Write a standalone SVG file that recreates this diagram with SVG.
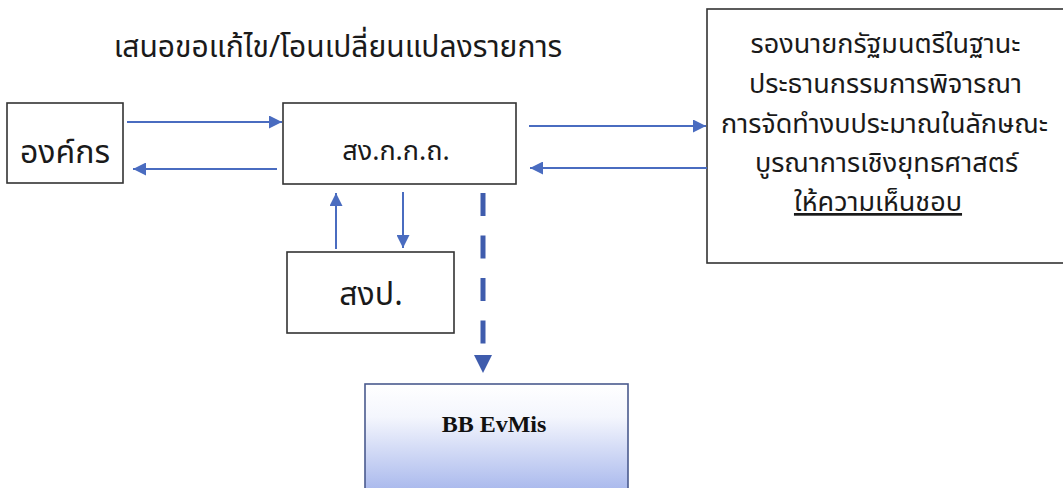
<svg xmlns="http://www.w3.org/2000/svg" width="1063" height="488" viewBox="0 0 1063 488">
<style>
.box{fill:#fff;stroke:#333;stroke-width:1.6}
.th{font-family:"Noto Sans Thai","Noto Sans",sans-serif;fill:#1a1a1a;text-anchor:middle}
.ln{stroke:#4a6cc0;stroke-width:2;fill:none}
.dash{stroke:#3f5cad;stroke-width:5;stroke-dasharray:23 19.5;fill:none}
</style>
<defs>
<marker id="ah" viewBox="0 0 10 10" refX="10" refY="5" markerWidth="6.5" markerHeight="6.5" orient="auto" markerUnits="strokeWidth">
<path d="M0,0 L10,5 L0,10 Z" fill="#4a6cc0"/>
</marker>
<linearGradient id="bg" x1="0" y1="0" x2="0" y2="1">
<stop offset="0" stop-color="#ffffff"/>
<stop offset="0.3" stop-color="#f4f6fd"/>
<stop offset="1" stop-color="#a6b6ec"/>
</linearGradient>
</defs>
<rect width="1063" height="488" fill="#fff"/>
<text class="th" x="338" y="57" font-size="30">เสนอขอแก้ไข/โอนเปลี่ยนแปลงรายการ</text>
<g id="org">
<rect class="box" x="7" y="103" width="116" height="80"/>
<text class="th" x="65" y="163" font-size="32">องค์กร</text>
</g>
<g id="sgkkt">
<rect class="box" x="283" y="103" width="233" height="81"/>
<text class="th" x="396" y="160" font-size="27">สง.ก.ก.ถ.</text>
</g>
<g id="sgp">
<rect class="box" x="287" y="252" width="167" height="81"/>
<text class="th" x="371" y="305" font-size="32">สงป.</text>
</g>
<g id="deputy">
<rect class="box" x="707" y="9" width="370" height="254"/>
<text class="th" font-size="27">
<tspan x="889" y="53">รองนายกรัฐมนตรีในฐานะ</tspan>
<tspan x="889" y="93">ประธานกรรมการพิจารณา</tspan>
<tspan x="888" y="133">การจัดทำงบประมาณในลักษณะ</tspan>
<tspan x="890" y="172">บูรณาการเชิงยุทธศาสตร์</tspan>
<tspan x="878" y="211" text-decoration="underline">ให้ความเห็นชอบ</tspan>
</text>
</g>
<g id="bbevmis">
<rect x="365" y="384" width="263" height="110" fill="url(#bg)" stroke="#4a5a8e" stroke-width="1.6"/>
<text x="494" y="432" font-family="'Liberation Serif',serif" font-weight="bold" font-size="24" text-anchor="middle" fill="#111">BB EvMis</text>
</g>
<g id="connectors">
<line class="ln" x1="127" y1="122" x2="282" y2="122" marker-end="url(#ah)"/>
<line class="ln" x1="277" y1="169" x2="133" y2="169" marker-end="url(#ah)"/>
<line class="ln" x1="529" y1="126" x2="706" y2="126" marker-end="url(#ah)"/>
<line class="ln" x1="707" y1="168" x2="530" y2="168" marker-end="url(#ah)"/>
<line class="ln" x1="336" y1="249" x2="336" y2="193" marker-end="url(#ah)"/>
<line class="ln" x1="403" y1="192" x2="403" y2="248" marker-end="url(#ah)"/>
<line class="dash" x1="483" y1="193" x2="483" y2="355"/>
<path d="M474,355 L492,355 L483,373 Z" fill="#3f5cad"/>
</g>
</svg>
